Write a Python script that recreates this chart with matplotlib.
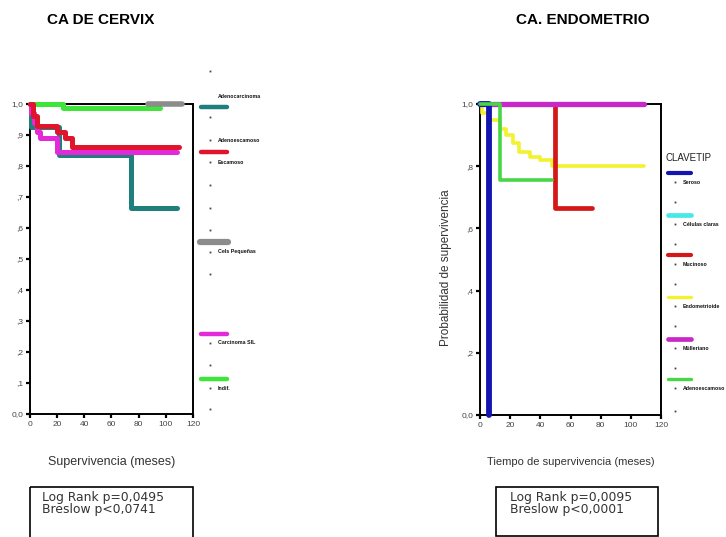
import matplotlib
matplotlib.use("Agg")
import matplotlib.pyplot as plt
from matplotlib.patches import Rectangle

plt.rcParams['font.family'] = ['Liberation Sans', 'DejaVu Sans']

# ---------------- data: CA DE CERVIX ----------------
cervix_groups = ["Adenocarcinoma", "Adenoescamoso", "Escamoso", "Cels Pequeñas", "Carcinoma SIL", "Indif."]
teal_t = [0, 1, 21, 74, 108]
teal_s = [1.0, 0.925, 0.835, 0.665, 0.665]
red_t = [0, 2, 5, 20, 26, 31, 110]
red_s = [1.0, 0.96, 0.93, 0.91, 0.89, 0.86, 0.86]
mag_t = [0, 1, 3, 5, 7, 20, 108]
mag_s = [1.0, 0.97, 0.94, 0.91, 0.89, 0.845, 0.845]
gray_t = [87, 112]
gray_s = [1.0, 1.0]
green_t = [0, 24, 96]
green_s = [1.0, 0.987, 0.987]
cervix_yticks = [0.0, 0.1, 0.2, 0.3, 0.4, 0.5, 0.6, 0.7, 0.8, 0.9, 1.0]
cervix_yticklabels = ["0,0", ",1", ",2", ",3", ",4", ",5", ",6", ",7", ",8", ",9", "1,0"]
xticks = [0, 20, 40, 60, 80, 100, 120]
xticklabels = ["0", "20", "40", "60", "80", "100", "120"]
cervix_stats = ["Log Rank p=0,0495", "Breslow p<0,0741"]

# ---------------- data: CA. ENDOMETRIO ----------------
endo_groups = ["Seroso", "Células claras", "Mucinoso", "Endometrioide", "Mülleriano", "Adenoescamoso"]
blue_t = [0, 6]
blue_s = [1.0, 0.0]
cyan_t = [0, 13]
cyan_s = [1.0, 1.0]
ered_t = [0, 50, 74]
ered_s = [1.0, 0.665, 0.665]
yel_t = [0, 1, 6, 13, 17, 22, 26, 33, 40, 48, 109]
yel_s = [1.0, 0.97, 0.95, 0.92, 0.90, 0.875, 0.846, 0.83, 0.82, 0.80, 0.80]
emag_t = [0, 109]
emag_s = [1.0, 1.0]
egreen_t = [0, 13, 48]
egreen_s = [1.0, 0.755, 0.755]
endo_yticks = [0.0, 0.2, 0.4, 0.6, 0.8, 1.0]
endo_yticklabels = ["0,0", ",2", ",4", ",6", ",8", "1,0"]
endo_stats = ["Log Rank p=0,0095", "Breslow p<0,0001"]

W, H = 726, 537
fig = plt.figure(figsize=(W / 100, H / 100), dpi=100)
fig.patch.set_facecolor("white")


def px_axes(x0, x1, ytop, ybot):
    return fig.add_axes([x0 / W, (H - ybot) / H, (x1 - x0) / W, (ybot - ytop) / H])


def style(ax, yticks, ylabels):
    ax.set_xlim(0, 120)
    ax.set_ylim(0, 1.0)
    ax.set_xticks(xticks)
    ax.set_xticklabels(xticklabels)
    ax.set_yticks(yticks)
    ax.set_yticklabels(ylabels)
    ax.tick_params(direction="out", length=3, width=1.6, labelsize=6, pad=2,
                   labelcolor="#444444")
    for sp in ax.spines.values():
        sp.set_linewidth(1.4)
        sp.set_zorder(0)
    ax.set_facecolor("white")


# ---- left chart ----
axL = px_axes(30, 193, 104, 414)
style(axL, cervix_yticks, cervix_yticklabels)
kw = dict(where="post", solid_capstyle="round", clip_on=False)
axL.step(green_t, green_s, color="#3ee63a", lw=3.6, zorder=2, **kw)
axL.step(gray_t, gray_s, color="#8c8c8c", lw=4.0, zorder=3, **kw)
axL.step(teal_t, teal_s, color="#1f7f7c", lw=3.6, zorder=4, **kw)
axL.step(mag_t, mag_s, color="#e42ad8", lw=3.6, zorder=5, **kw)
axL.step(red_t, red_s, color="#e0142a", lw=3.6, zorder=6, **kw)

# ---- right chart ----
axR = px_axes(480, 661, 104, 415)
style(axR, endo_yticks, endo_yticklabels)
axR.step(cyan_t, cyan_s, color="#48e8e8", lw=3.5, zorder=2, **kw)
axR.step(yel_t, yel_s, color="#f2f230", lw=2.6, zorder=3, **kw)
axR.step(ered_t, ered_s, color="#d41818", lw=3.4, zorder=4, **kw)
axR.step(emag_t, emag_s, color="#c828c8", lw=3.8, zorder=5, **kw)
axR.step(blue_t, blue_s, color="#1414b0", lw=4.2, zorder=6, **kw)
axR.step(egreen_t, egreen_s, color="#46d646", lw=2.6, zorder=7, **kw)

# ---- overlay for text, legends, boxes ----
ov = fig.add_axes([0, 0, 1, 1], zorder=10)
ov.set_xlim(0, W)
ov.set_ylim(H, 0)
ov.axis("off")
ov.patch.set_alpha(0)

ov.text(101, 20, "CA DE CERVIX", fontsize=11, fontweight="bold", ha="center", va="center",
        family=["Liberation Sans Narrow", "Liberation Sans"])
ov.text(583, 20, "CA. ENDOMETRIO", fontsize=11, fontweight="bold", ha="center", va="center",
        family=["Liberation Sans Narrow", "Liberation Sans"])
ov.text(112, 462, "Supervivencia (meses)", fontsize=9, ha="center", va="center", color="#333333")
ov.text(571, 462, "Tiempo de supervivencia (meses)", fontsize=8, ha="center", va="center", color="#333333")
ov.text(446, 268, "Probabilidad de supervivencia", fontsize=8.5, ha="center", va="center",
        rotation=90, color="#333333")

# stats boxes
ov.add_patch(Rectangle((30, 487), 163, 60, fill=False, lw=1.2, ec="black"))
ov.add_patch(Rectangle((496, 487), 162, 49, fill=False, lw=1.2, ec="black"))
sk = dict(fontsize=8.9, va="center", color="#333333", family=["DejaVu Sans"])
ov.text(42, 497, cervix_stats[0], **sk)
ov.text(42, 510, cervix_stats[1], **sk)
ov.text(510, 497, endo_stats[0], **sk)
ov.text(510, 510, endo_stats[1], **sk)


def dot(x, y):
    ov.plot([x], [y], marker="s", ms=1.3, color="#444444", mec="none")


def legline(x0, x1, y, color, lw):
    ov.plot([x0, x1], [y, y], color=color, lw=lw, solid_capstyle="round")


# left legend
lab_kw = dict(fontsize=3.8, fontweight="bold", va="center", color="#111111")
dot(210, 71)
ov.text(218, 96, cervix_groups[0], **lab_kw)
legline(201, 227, 107, "#1f7f7c", 3.2)
dot(210, 117)
dot(210, 140); ov.text(218, 140, cervix_groups[1], **lab_kw)
legline(201, 227, 152, "#e0142a", 3.2)
dot(210, 162); ov.text(218, 162, cervix_groups[2], **lab_kw)
dot(210, 185)
dot(210, 208)
dot(210, 230)
legline(200, 228, 242, "#8c8c8c", 4.5)
dot(210, 252); ov.text(218, 252, cervix_groups[3], **lab_kw)
dot(210, 274)
legline(201, 227, 334, "#e42ad8", 3.2)
dot(210, 343); ov.text(218, 343, cervix_groups[4], **lab_kw)
dot(210, 365)
legline(201, 227, 379, "#3ee63a", 3.2)
dot(210, 388); ov.text(218, 388, cervix_groups[5], **lab_kw)
dot(210, 409)

# right legend
ov.text(665, 158, "CLAVETIP", fontsize=7, va="center", color="#222222")
ry = [173, 215, 255, 297, 339, 379]
rcol = ["#1414b0", "#48e8e8", "#d41818", "#f2f230", "#c828c8", "#46d646"]
rlw = [3.0, 3.4, 3.0, 2.4, 3.4, 2.4]
for i in range(6):
    legline(668, 691, ry[i], rcol[i], rlw[i])
    dot(675, ry[i] + 9)
    ov.text(683, ry[i] + 9, endo_groups[i], **lab_kw)
    dot(675, ry[i] + 29 if i < 5 else ry[i] + 32)

fig.savefig("out.png", dpi=100, facecolor="white")
